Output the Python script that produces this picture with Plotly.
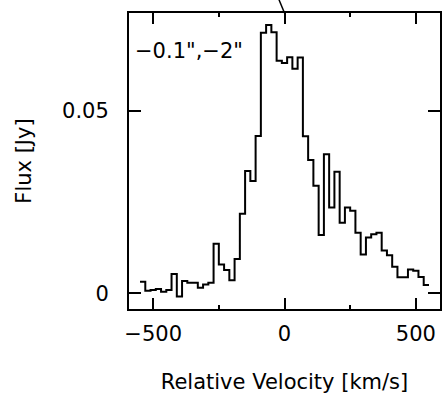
import numpy as np
import plotly.graph_objects as go

# bin centres (km/s) and flux (Jy)
velocity = list(range(-540, 541, 20))
flux = [0.0032, 0.0007, 0.0009, 0.0012, 0.0004, 0.0009, 0.0053, -0.0009, 0.0034, 0.0029,
        0.0029, 0.0015, 0.0024, 0.0029, 0.0136, 0.0079, 0.0064, 0.0036, 0.0094, 0.0218,
        0.0335, 0.0308, 0.0431, 0.0714, 0.0735, 0.0715, 0.0637, 0.0631, 0.0647, 0.0615,
        0.0646, 0.0430, 0.0365, 0.0295, 0.0160, 0.0381, 0.0235, 0.0333, 0.0193, 0.0235,
        0.0226, 0.0166, 0.0106, 0.0153, 0.0162, 0.0166, 0.0117, 0.0104, 0.0073, 0.0044,
        0.0044, 0.0065, 0.0062, 0.0045, 0.0023]
x_ticks = [-500, 0, 500]
x_tick_labels = ["\u2212500", "0", "500"]
y_ticks = [0, 0.05]
y_tick_labels = ["0", "0.05"]
label_text = "\u22120.1\",\u22122\""

xr = [-592, 592]
yr = [-0.0043, 0.0768]

c = np.array(velocity, dtype=float)
w = c[1] - c[0]
edges = np.append(c - w / 2, c[-1] + w / 2)
vals = np.append(np.array(flux), flux[-1])

font = dict(family="DejaVu Sans", size=21, color="black")

fig = go.Figure()
fig.add_trace(go.Scatter(x=edges, y=vals, mode="lines", line=dict(shape="hv", color="black", width=2),
                         showlegend=False, hoverinfo="skip"))

fig.update_layout(
    width=445, height=397,
    margin=dict(l=129, r=3, t=13, b=88),
    paper_bgcolor="white", plot_bgcolor="white",
    font=font,
    showlegend=False,
)
fig.update_xaxes(
    range=xr, showgrid=False, zeroline=False,
    showline=True, linecolor="black", linewidth=2, mirror="ticks",
    ticks="inside", ticklen=11, tickwidth=2, tickcolor="black",
    tickvals=x_ticks, ticktext=x_tick_labels, tickfont=font,
    ticklabelstandoff=5,
    minor=dict(dtick=250, tick0=0, ticks="inside", ticklen=4, tickwidth=2, tickcolor="black"),
    title=dict(text="Relative Velocity [km/s]", font=font, standoff=29),
)
fig.update_yaxes(
    range=yr, showgrid=False, zeroline=False,
    showline=True, linecolor="black", linewidth=2, mirror="ticks",
    ticks="inside", ticklen=12, tickwidth=2, tickcolor="black",
    tickvals=y_ticks, ticktext=y_tick_labels, tickfont=font,
    ticklabelstandoff=14,
    title=dict(text="Flux [Jy]", font=font, standoff=25),
)
fig.add_annotation(text=label_text, xref="paper", yref="paper", x=0.012, y=0.87,
                   xanchor="left", yanchor="middle", showarrow=False, font=font)

# small slanted marker line above the frame near zero velocity
def xpaper(v):
    return (v - xr[0]) / (xr[1] - xr[0])
fig.add_shape(type="line", xref="paper", yref="paper",
              x0=xpaper(-21), y0=1.045, x1=xpaper(0), y1=1.0,
              line=dict(color="black", width=1.5))

fig.write_html("out.html")
